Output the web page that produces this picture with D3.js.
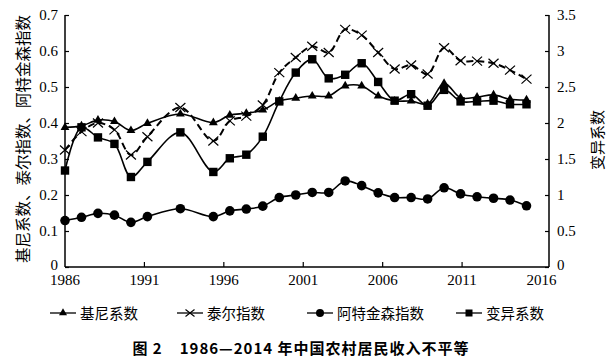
<!DOCTYPE html>
<html>
<head>
<meta charset="utf-8">
<script src="https://cdn.jsdelivr.net/npm/d3@7"></script>
<style>
    body { margin: 0; background: #fff; }
    svg { display: block; }
</style>
</head>
<body>
<svg></svg>
<script>
// years with data (1992 and 1994 are missing in the source)
const years = [1986, 1987, 1988, 1989, 1990, 1991, 1993, 1995, 1996, 1997, 1998, 1999, 2000,
    2001, 2002, 2003, 2004, 2005, 2006, 2007, 2008, 2009, 2010, 2011, 2012, 2013, 2014];
const gini = [0.388, 0.392, 0.408, 0.404, 0.379, 0.399, 0.425, 0.401, 0.422, 0.427, 0.436, 0.461, 0.469,
    0.475, 0.475, 0.503, 0.503, 0.475, 0.461, 0.461, 0.453, 0.510, 0.470, 0.472, 0.478, 0.466, 0.464];
const theil = [0.325, 0.376, 0.400, 0.381, 0.311, 0.362, 0.443, 0.350, 0.406, 0.419, 0.450, 0.540, 0.582,
    0.613, 0.596, 0.660, 0.644, 0.596, 0.550, 0.561, 0.536, 0.609, 0.573, 0.572, 0.566, 0.547, 0.522];
const atkinson = [0.129, 0.138, 0.149, 0.144, 0.124, 0.140, 0.162, 0.140, 0.156, 0.161, 0.169, 0.193, 0.200,
    0.207, 0.207, 0.239, 0.226, 0.206, 0.193, 0.193, 0.189, 0.220, 0.203, 0.195, 0.191, 0.186, 0.170];
const cv = [1.34, 1.94, 1.80, 1.71, 1.25, 1.46, 1.87, 1.32, 1.51, 1.56, 1.81, 2.30, 2.70,
    2.885, 2.62, 2.67, 2.83, 2.57, 2.31, 2.40, 2.24, 2.46, 2.30, 2.30, 2.31, 2.26, 2.26];

const xTicks = [1986, 1991, 1996, 2001, 2006, 2011, 2016];
const leftTicks = [0, 0.1, 0.2, 0.3, 0.4, 0.5, 0.6, 0.7];
const rightTicks = [0, 0.5, 1, 1.5, 2, 2.5, 3, 3.5];

const seriesNames = ['基尼系数', '泰尔指数', '阿特金森指数', '变异系数'];
const leftTitle = '基尼系数、泰尔指数、阿特金森指数';
const rightTitle = '变异系数';
const chartTitle = '图 2\u2002\u20021986—2014 年中国农村居民收入不平等';

const serif = '"Liberation Serif", "DejaVu Serif", serif';
const cjk = '"Noto Sans CJK SC", sans-serif';

const svg = d3.select('svg')
    .attr('width', 611)
    .attr('height', 363);

const plot = {left: 65, right: 549, top: 15, bottom: 267};

// the data points and the tick labels are spaced a bit differently in the original
const xData = d3.scaleLinear().domain([1986, 2014]).range([plot.left, 526.5]);
const xAxisScale = d3.scaleLinear().domain([1986, 2016]).range([plot.left, 541.5]);
const yLeft = d3.scaleLinear().domain([0, 0.7]).range([plot.bottom, plot.top]);
const yRight = d3.scaleLinear().domain([0, 3.5]).range([plot.bottom, plot.top]);

// axes
const xAxisGroup = svg.append('g')
    .attr('transform', `translate(0, ${plot.bottom})`);
xAxisGroup.append('line')
    .attr('x1', plot.left).attr('x2', plot.right)
    .attr('stroke', '#000').attr('stroke-width', 1.5);
xAxisGroup.selectAll('.tick')
    .data(xTicks)
    .enter().append('g')
    .attr('class', 'tick')
    .attr('transform', d => `translate(${xAxisScale(d)}, 0)`)
    .each(function(d) {
        const g = d3.select(this);
        if (d !== 1986 && d !== 2016) {
            g.append('line').attr('y1', 0).attr('y2', -5)
                .attr('stroke', '#000').attr('stroke-width', 1.2);
        }
        g.append('text')
            .text(d)
            .attr('y', 18)
            .attr('text-anchor', 'middle')
            .attr('font-family', serif)
            .attr('font-size', 15)
            .attr('fill', '#000');
    });

const fmt = d3.format('~g');
const yLeftAxis = svg.append('g')
    .attr('transform', `translate(${plot.left}, 0)`)
    .call(d3.axisLeft(yLeft).tickValues(leftTicks).tickFormat(fmt).tickSize(-4).tickPadding(7));
const yRightAxis = svg.append('g')
    .attr('transform', `translate(${plot.right}, 0)`)
    .call(d3.axisRight(yRight).tickValues(rightTicks).tickFormat(fmt).tickSize(-4).tickPadding(8));

[yLeftAxis, yRightAxis].forEach(ax => {
    ax.select('.domain').attr('stroke-width', 1.5).attr('d', `M0,${plot.top}V${plot.bottom}`);
    ax.selectAll('.tick line').attr('stroke-width', 1.2);
    ax.selectAll('.tick text')
        .attr('font-family', serif)
        .attr('font-size', 15)
        .attr('fill', '#000');
});
// the zero labels sit a little higher than the axis line
yLeftAxis.selectAll('.tick text').filter(d => d === 0).attr('y', -2);
yRightAxis.selectAll('.tick text').filter(d => d === 0).attr('y', -2);

svg.append('text')
    .text(leftTitle)
    .attr('transform', 'translate(29, 139) rotate(-90)')
    .attr('text-anchor', 'middle')
    .attr('font-family', cjk)
    .attr('font-size', 15.5)
    .attr('fill', '#000');

svg.append('text')
    .text(rightTitle)
    .attr('transform', 'translate(603, 140) rotate(-90)')
    .attr('text-anchor', 'middle')
    .attr('font-family', cjk)
    .attr('font-size', 15)
    .attr('fill', '#000');

// lines
const curve = d3.curveCatmullRom.alpha(0.5);
const series = [
    {name: seriesNames[0], values: gini, y: yLeft, dash: null, marker: 'triangle'},
    {name: seriesNames[1], values: theil, y: yLeft, dash: '7,4', marker: 'cross'},
    {name: seriesNames[2], values: atkinson, y: yLeft, dash: null, marker: 'circle'},
    {name: seriesNames[3], values: cv, y: yRight, dash: null, marker: 'square'}
];

const lineGroup = svg.append('g').attr('id', 'line-group');

function drawMarker(g, type) {
    if (type === 'triangle') {
        g.append('path').attr('d', d3.symbol(d3.symbolTriangle, 34)()).attr('fill', '#000');
    } else if (type === 'cross') {
        g.append('path').attr('d', 'M-5,-4.5L5,4.5M-5,4.5L5,-4.5')
            .attr('stroke', '#000').attr('stroke-width', 1.2).attr('fill', 'none');
    } else if (type === 'circle') {
        g.append('circle').attr('r', 4.8).attr('fill', '#000');
    } else if (type === 'square') {
        g.append('rect').attr('x', -4.2).attr('y', -4.2).attr('width', 8.4).attr('height', 8.4).attr('fill', '#000');
    }
}

series.forEach(s => {
    const pts = years.map((yr, i) => [xData(yr), s.y(s.values[i])]);
    const line = d3.line().curve(curve);
    lineGroup.append('path')
        .attr('d', line(pts))
        .attr('fill', 'none')
        .attr('stroke', '#000')
        .attr('stroke-width', s.dash ? 2 : 1.6)
        .attr('stroke-dasharray', s.dash);
    lineGroup.selectAll(null)
        .data(pts)
        .enter().append('g')
        .attr('transform', d => `translate(${d[0]}, ${d[1]})`)
        .each(function() { drawMarker(d3.select(this), s.marker); });
});

// legend
const legendX = [50, 177, 307, 456];
const legend = svg.append('g').attr('transform', 'translate(0, 313)');
series.forEach((s, i) => {
    const g = legend.append('g').attr('transform', `translate(${legendX[i]}, 0)`);
    g.append('line').attr('x1', 0).attr('x2', 26)
        .attr('stroke', '#000').attr('stroke-width', 1.3);
    const m = g.append('g').attr('transform', 'translate(13, 0)');
    if (s.marker === 'circle') {
        m.append('circle').attr('r', 4).attr('fill', '#000');
    } else if (s.marker === 'square') {
        m.append('rect').attr('x', -3.5).attr('y', -3.5).attr('width', 7).attr('height', 7).attr('fill', '#000');
    } else if (s.marker === 'triangle') {
        m.append('path').attr('d', d3.symbol(d3.symbolTriangle, 28)()).attr('fill', '#000');
    } else {
        m.append('path').attr('d', 'M-4.5,-3.5L4.5,3.5M-4.5,3.5L4.5,-3.5')
            .attr('stroke', '#000').attr('stroke-width', 1.1);
    }
    g.append('text')
        .text(s.name)
        .attr('x', 30)
        .attr('y', 5.5)
        .attr('font-family', cjk)
        .attr('font-size', 14.5)
        .attr('fill', '#000');
});

svg.append('text')
    .text(chartTitle)
    .attr('x', 301)
    .attr('y', 354)
    .attr('text-anchor', 'middle')
    .attr('font-family', cjk)
    .attr('font-weight', 'bold')
    .attr('font-size', 15)
    .attr('letter-spacing', 1)
    .attr('fill', '#000');
</script>
</body>
</html>
